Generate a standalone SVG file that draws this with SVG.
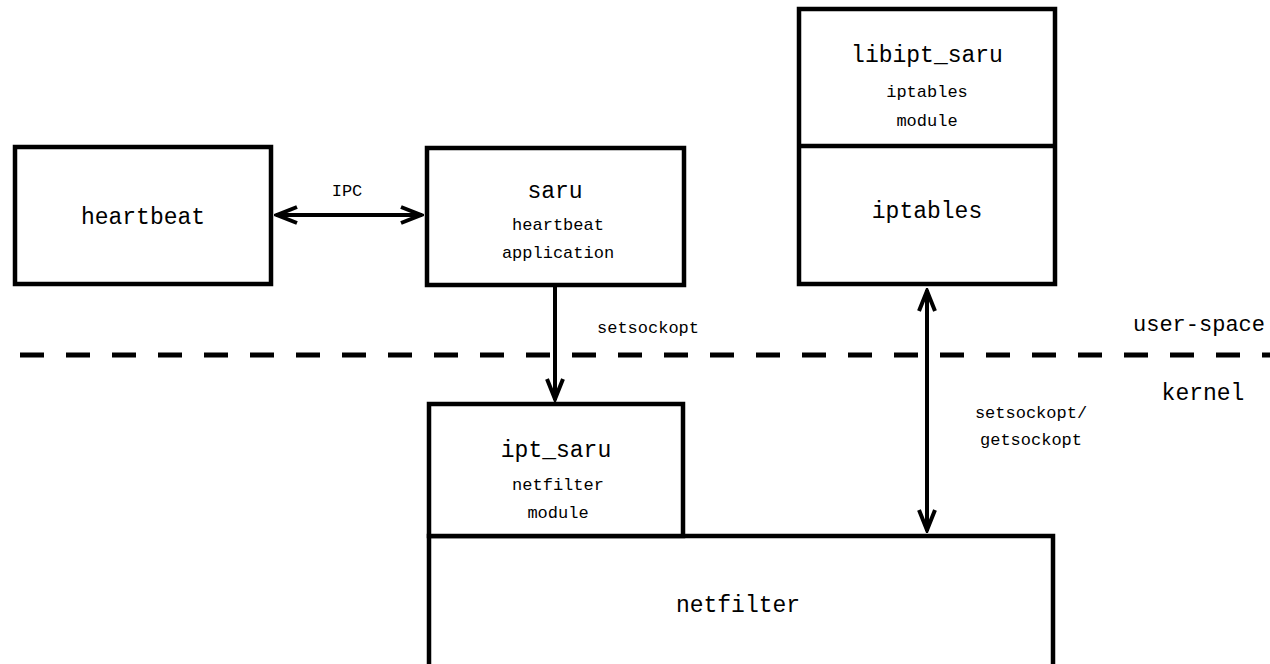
<svg xmlns="http://www.w3.org/2000/svg" width="1270" height="664" viewBox="0 0 1270 664">
  <style>
    .box { fill: #ffffff; stroke: #000000; stroke-width: 4.5; }
    .sep { stroke: #000000; stroke-width: 4.5; }
    .t { font-family: "Liberation Mono", "DejaVu Sans Mono", monospace; fill: #000000; text-anchor: middle; }
    .big { font-size: 23px; }
    .small { font-size: 17px; }
    .edge { fill: none; stroke: #000000; stroke-width: 4; }
    .boundary { fill: none; stroke: #000000; stroke-width: 5; stroke-dasharray: 24 22; }
  </style>
  <defs>
    <marker id="chevron" viewBox="-26 -12 28 24" refX="0" refY="0" markerWidth="28" markerHeight="24" markerUnits="userSpaceOnUse" orient="auto-start-reverse">
      <path d="M-21,-8 L-1,0 L-21,8" fill="none" stroke="#000000" stroke-width="4"/>
    </marker>
  </defs>

  <rect width="1270" height="664" fill="#ffffff"/>

  <!-- user-space / kernel boundary -->
  <g id="boundary">
    <line class="boundary" x1="20" y1="355" x2="1270" y2="355"/>
    <text class="t" x="1133" y="331" style="text-anchor:start;font-size:22px">user-space</text>
    <text class="t big" x="1203" y="400">kernel</text>
  </g>

  <g id="heartbeat">
    <rect class="box" x="15" y="147" width="256" height="137"/>
    <text class="t big" x="143" y="224">heartbeat</text>
  </g>

  <g id="saru">
    <rect class="box" x="427" y="148" width="257" height="137"/>
    <text class="t big" x="555" y="198">saru</text>
    <text class="t small" x="558" y="230">heartbeat</text>
    <text class="t small" x="558" y="258">application</text>
  </g>

  <g id="iptables">
    <rect class="box" x="799" y="9" width="256" height="275"/>
    <line class="sep" x1="799" y1="146" x2="1055" y2="146"/>
    <text class="t big" x="927" y="62">libipt_saru</text>
    <text class="t small" x="927" y="97">iptables</text>
    <text class="t small" x="927" y="126">module</text>
    <text class="t big" x="927" y="218">iptables</text>
  </g>

  <g id="netfilter">
    <rect class="box" x="429" y="536" width="624" height="140"/>
    <text class="t big" x="738" y="612">netfilter</text>
  </g>

  <g id="ipt_saru">
    <rect class="box" x="429" y="404" width="254" height="132"/>
    <text class="t big" x="556" y="457">ipt_saru</text>
    <text class="t small" x="558" y="490">netfilter</text>
    <text class="t small" x="558" y="518">module</text>
  </g>

  <!-- connectors -->
  <g id="connectors">
    <line class="edge" x1="276" y1="215" x2="422" y2="215" marker-start="url(#chevron)" marker-end="url(#chevron)"/>
    <text class="t small" x="347" y="196">IPC</text>

    <line class="edge" x1="555" y1="287" x2="555" y2="400" marker-end="url(#chevron)"/>
    <text class="t small" x="648" y="333">setsockopt</text>

    <line class="edge" x1="927" y1="290" x2="927" y2="531" marker-start="url(#chevron)" marker-end="url(#chevron)"/>
    <text class="t small" x="1031" y="418">setsockopt/</text>
    <text class="t small" x="1031" y="445">getsockopt</text>
  </g>
</svg>
